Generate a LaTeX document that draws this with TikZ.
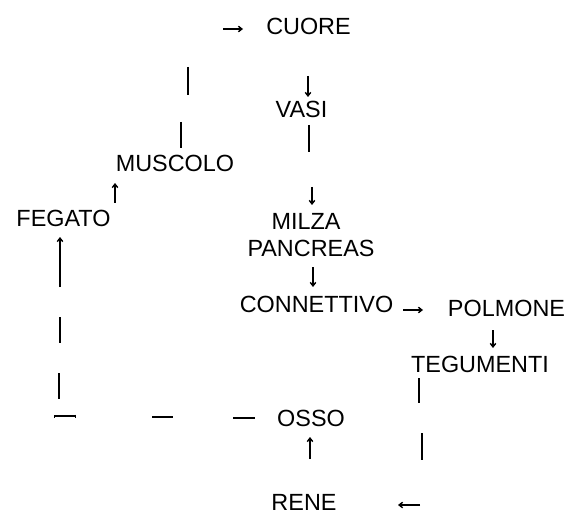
\documentclass[tikz,border=0pt]{standalone}
\usepackage{fontspec}
\setmainfont{Liberation Sans}
\usetikzlibrary{arrows.meta}
\begin{document}
\begin{tikzpicture}[x=1bp,y=-1bp,
  lbl/.style={inner sep=0pt, anchor=base, font=\fontsize{23.4bp}{28bp}\selectfont},
  seg/.style={line width=1.4bp},
  arr/.style={seg, -{Straight Barb[length=3.5bp,width=5.5bp]}},
  tick/.style={seg, {Bar[width=3bp,line width=1bp]}-{Bar[width=3bp,line width=1bp]}}]
\useasboundingbox (0,0) rectangle (581,529);
% labels
\node[lbl] (cuore) at (308.5,35) {CUORE};
\node[lbl] (vasi) at (301.5,118) {VASI};
\node[lbl] (muscolo) at (175,172) {MUSCOLO};
\node[lbl] (fegato) at (63.5,227) {FEGATO};
\node[lbl] (milza) at (306,230) {MILZA};
\node[lbl] (pancreas) at (311,256) {PANCREAS};
\node[lbl] (connettivo) at (316.5,312) {CONNETTIVO};
\node[lbl] (polmone) at (506.5,316) {POLMONE};
\node[lbl] (tegumenti) at (480,372) {TEGUMENTI};
\node[lbl] (osso) at (311,426) {OSSO};
\node[lbl] (rene) at (304,510) {RENE};
% fragment end points
\coordinate (a1) at (223,29);  \coordinate (a2) at (243,29);
\coordinate (b1) at (188,67);  \coordinate (b2) at (188,95);
\coordinate (c1) at (308,76);  \coordinate (c2) at (308,97);
\coordinate (d1) at (309,125); \coordinate (d2) at (309,152);
\coordinate (e1) at (181,122); \coordinate (e2) at (181,148);
\coordinate (f1) at (115,203); \coordinate (f2) at (115,183);
\coordinate (g1) at (312,187); \coordinate (g2) at (312,205);
\coordinate (h1) at (313,267); \coordinate (h2) at (313,287);
\coordinate (i1) at (403,310); \coordinate (i2) at (423,310);
\coordinate (j1) at (493,330); \coordinate (j2) at (493,348);
\coordinate (k1) at (419,378); \coordinate (k2) at (419,403);
\coordinate (l1) at (422,433); \coordinate (l2) at (422,460);
\coordinate (m1) at (420,505); \coordinate (m2) at (398,505);
\coordinate (n1) at (310,459); \coordinate (n2) at (310,437);
\coordinate (o1) at (60,287);  \coordinate (o2) at (60,237);
\coordinate (p1) at (60,317);  \coordinate (p2) at (60,343);
\coordinate (q1) at (59,373);  \coordinate (q2) at (59,399);
\coordinate (r1) at (54,416);  \coordinate (r2) at (76,416);
\coordinate (s1) at (152,417); \coordinate (s2) at (173,417);
\coordinate (t1) at (233,418); \coordinate (t2) at (255,418);
% arrows
\draw[arr] (a1) -- (a2);
\draw[arr] (c1) -- (c2);
\draw[arr] (f1) -- (f2);
\draw[arr] (g1) -- (g2);
\draw[arr] (h1) -- (h2);
\draw[arr] (i1) -- (i2);
\draw[arr] (j1) -- (j2);
\draw[arr] (m1) -- (m2);
\draw[arr] (n1) -- (n2);
\draw[arr] (o1) -- (o2);
% plain strokes
\draw[seg] (b1) -- (b2);
\draw[seg] (d1) -- (d2);
\draw[seg] (e1) -- (e2);
\draw[seg] (k1) -- (k2);
\draw[seg] (l1) -- (l2);
\draw[seg] (p1) -- (p2);
\draw[seg] (q1) -- (q2);
\draw[tick] (r1) -- (r2);
\draw[seg] (s1) -- (s2);
\draw[seg] (t1) -- (t2);
\end{tikzpicture}
\end{document}
